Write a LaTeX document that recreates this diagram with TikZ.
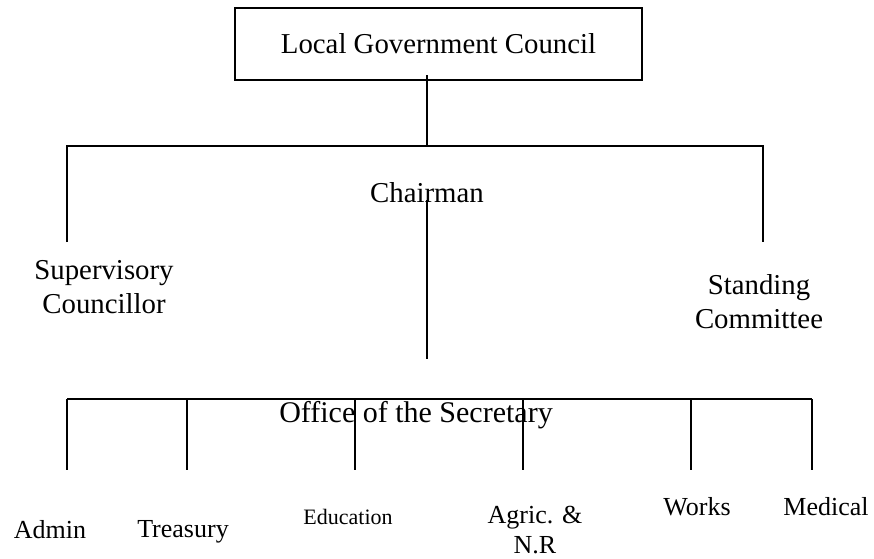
\documentclass[tikz,border=0pt]{standalone}
\usepackage{fontspec}
\setmainfont{Liberation Serif}
\usetikzlibrary{positioning}

\begin{document}
\begin{tikzpicture}[x=1pt,y=-1pt,line width=1.4pt,
    box node/.style={draw,line width=1.8pt,minimum width=407pt,minimum height=72pt,font=\fontsize{28.8}{34}\selectfont},
    head node/.style={inner sep=0pt,align=center,font=\fontsize{28.8}{34}\selectfont},
    unit node/.style={inner sep=0pt,align=center,font=\fontsize{26}{30}\selectfont}]
\useasboundingbox (0,0) rectangle (874,558);

\node[box node]  (lgc)    at (438.5,44) {Local Government Council};
\node[head node] (chair)  at (427,193)  {Chairman};
\node[head node] (super)  at (104,287)  {Supervisory\\Councillor};
\node[head node] (stand)  at (759,302)  {Standing\\Committee};
\node[head node,font=\fontsize{30}{34}\selectfont] (office) at (416,415) {Office of the Secretary};

\node[unit node] (admin) at (50,530)  {Admin};
\node[unit node] (treas) at (183,532) {Treasury};
\node[unit node,font=\fontsize{22}{26}\selectfont] (educ) at (348,517) {Education};
\node[unit node] (agric) at (535,530) {Agric. \&\\N.R};
\node[unit node] (works) at (697,507) {Works};
\node[unit node] (medic) at (826,507) {Medical};

\coordinate (top)    at (427,75);
\coordinate (fork)   at (427,146);
\coordinate (sleft)  at (67,146);
\coordinate (sright) at (763,146);
\coordinate (slend)  at (67,242);
\coordinate (srend)  at (763,242);
\coordinate (cdown)  at (427,200);
\coordinate (cend)   at (427,359);

\draw (top) -- (fork);
\draw (slend) -- (sleft) -- (sright) -- (srend);
\draw (cdown) -- (cend);

\draw (67,399) -- (812,399);
\draw (67 ,399) -- (67 ,470);
\draw (187,399) -- (187,470);
\draw (355,399) -- (355,470);
\draw (523,399) -- (523,470);
\draw (691,399) -- (691,470);
\draw (812,399) -- (812,470);
\end{tikzpicture}
\end{document}
